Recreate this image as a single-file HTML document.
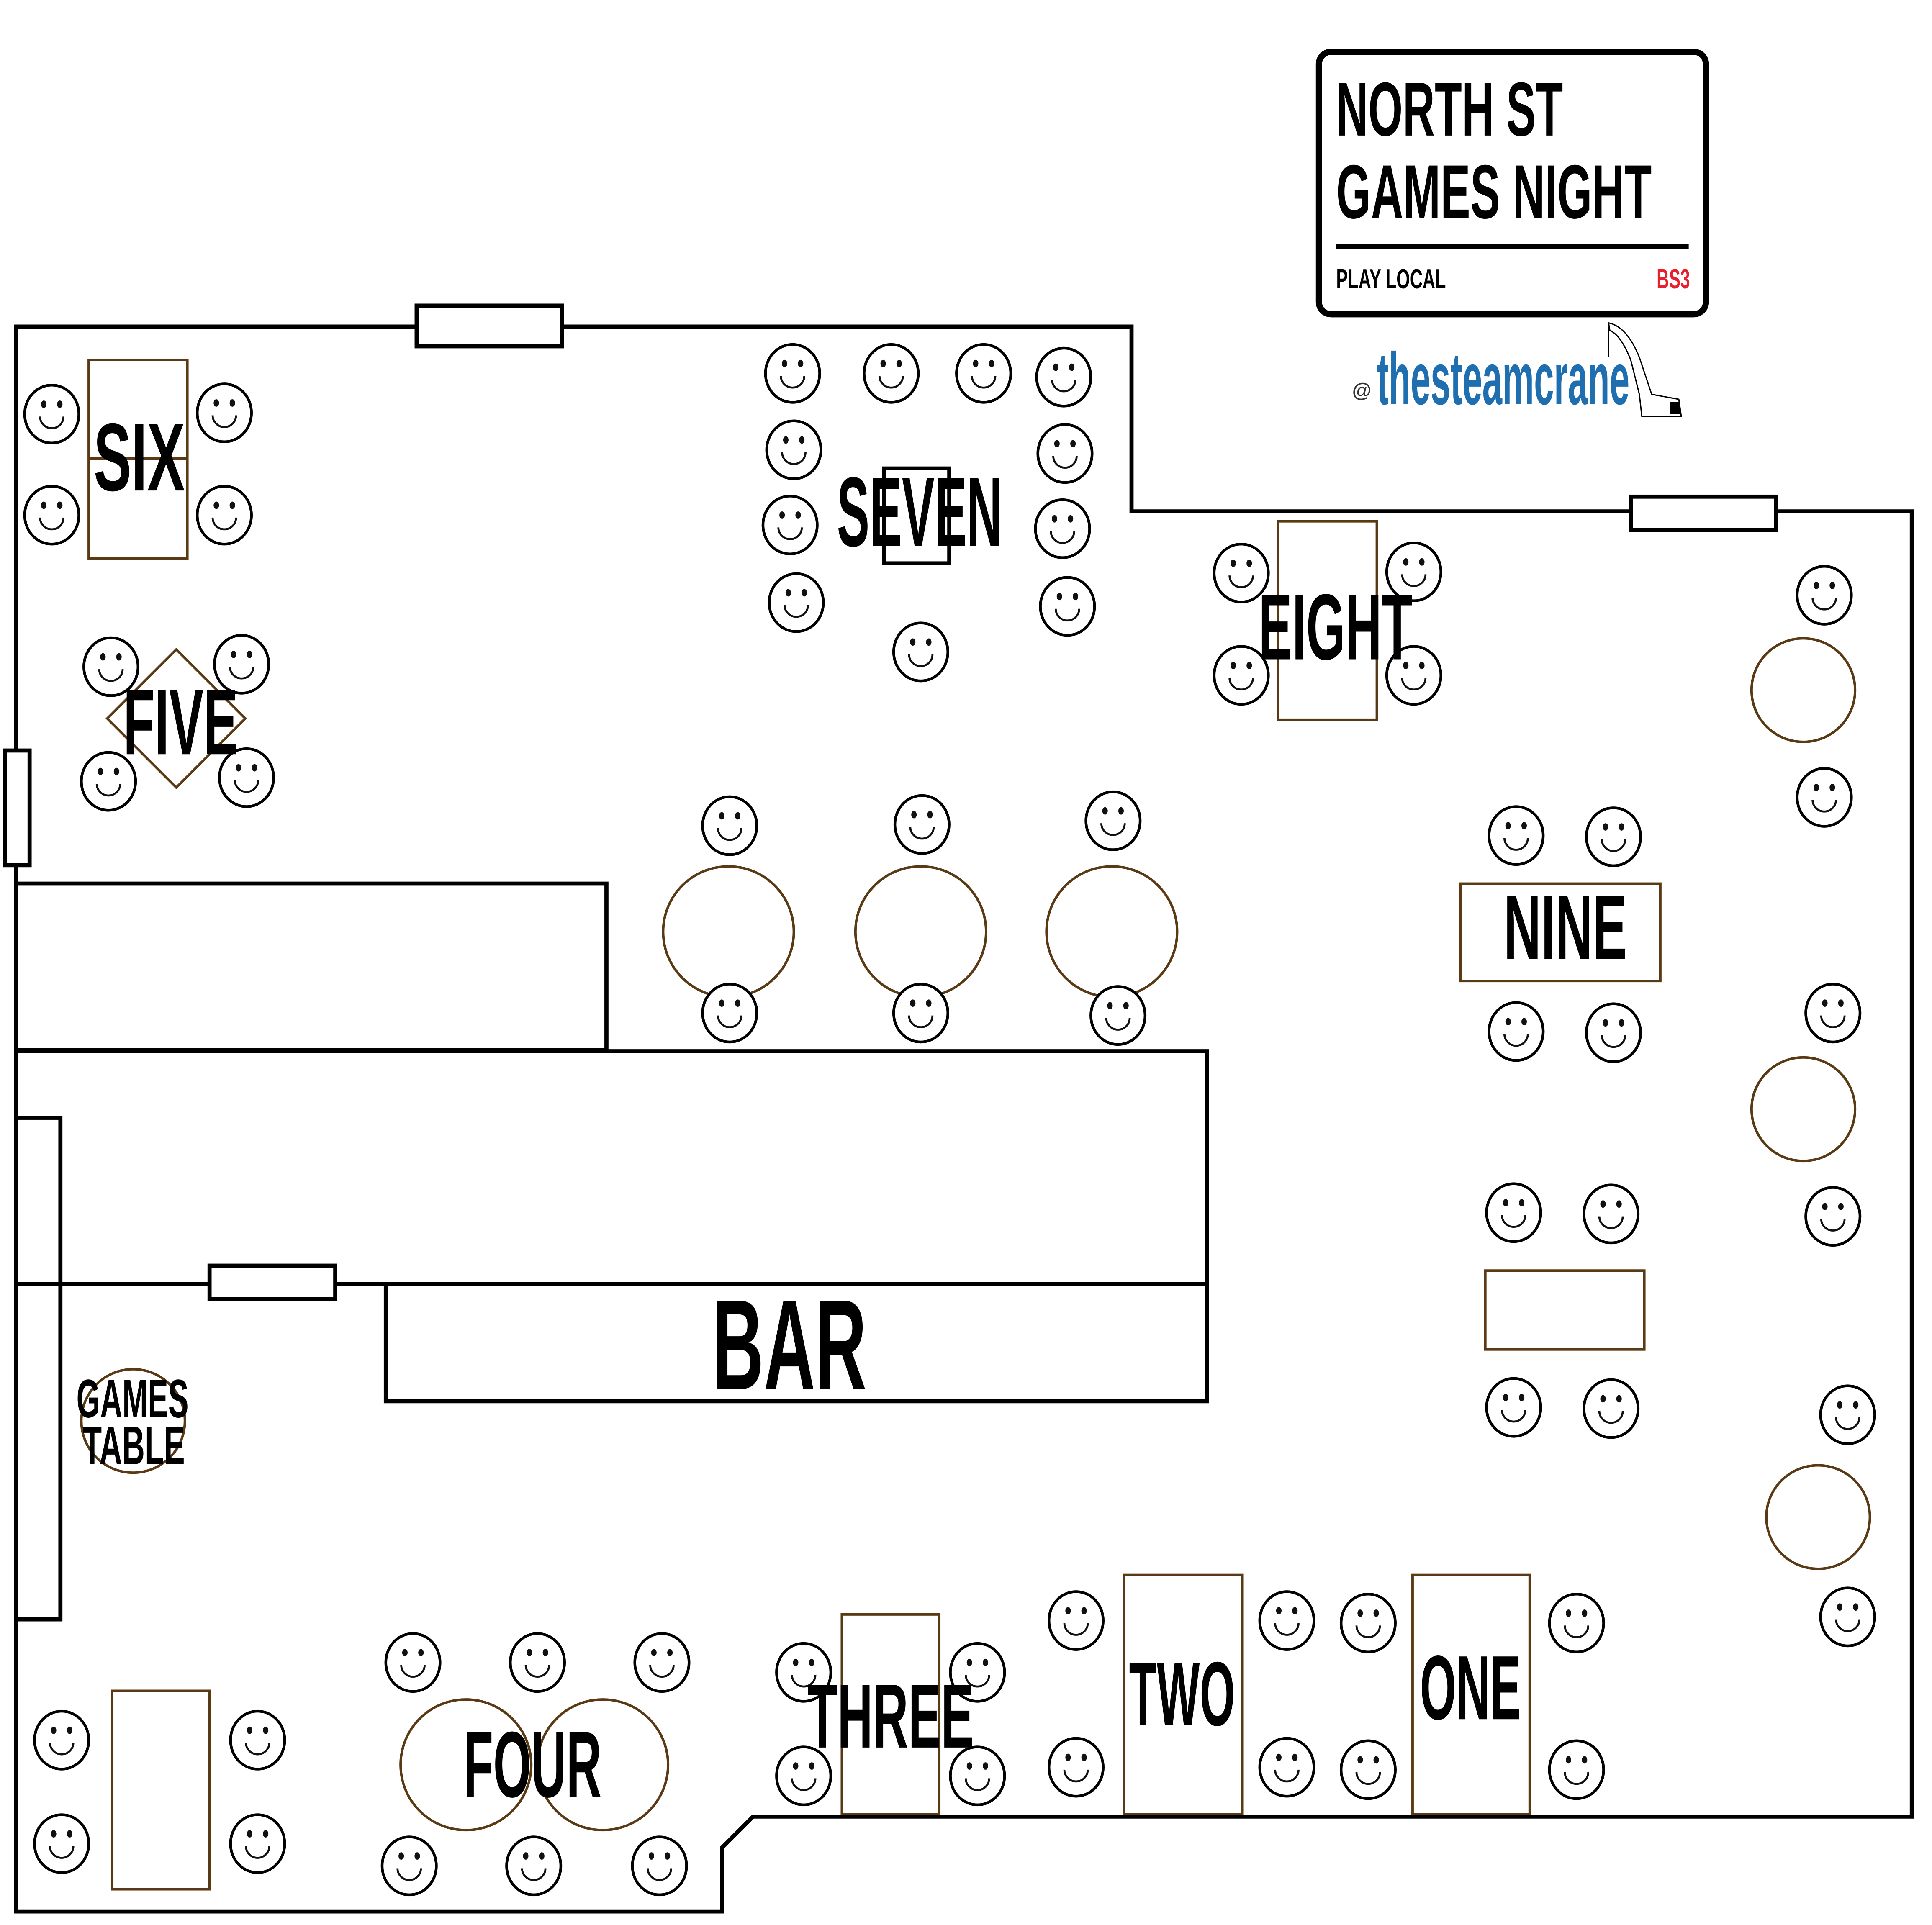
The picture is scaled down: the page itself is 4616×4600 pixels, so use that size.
<!DOCTYPE html>
<html><head><meta charset="utf-8"><style>
html,body{margin:0;padding:0;background:#fff;}
svg{display:block;}
text{font-family:"Liberation Sans Narrow","Liberation Sans",sans-serif;font-weight:bold;}
</style></head><body>
<svg width="4616" height="4600" viewBox="0 0 1567.4 1562" preserveAspectRatio="none" xmlns="http://www.w3.org/2000/svg">
<defs>
<g id="s">
<ellipse cx="0" cy="0" rx="22" ry="23.5" fill="#fff" stroke="#000" stroke-width="2.2"/>
<ellipse cx="-6.5" cy="-8" rx="2.2" ry="3" fill="#111"/>
<ellipse cx="6.5" cy="-8" rx="2.2" ry="3" fill="#111"/>
<path d="M-9.5 2 A9.5 9.5 0 0 0 9.5 2" fill="none" stroke="#111" stroke-width="1.6"/>
</g>
</defs>
<rect width="1568" height="1562" fill="#fff"/>
<g fill="none" stroke="#000" stroke-width="3.3">
<polygon points="13,265 918,265 918,415 1551,415 1551,1474 611,1474 586,1499 586,1551 13,1551"/>
<rect x="338" y="248" width="118" height="33" fill="#fff"/>
<rect x="1323" y="403" width="118" height="27" fill="#fff"/>
<rect x="4" y="609" width="20" height="93" fill="#fff"/>
<rect x="13" y="717" width="479" height="135"/>
<rect x="13" y="853" width="966" height="189"/>
<rect x="313" y="1042" width="666" height="95"/>
<rect x="13" y="907" width="36" height="407"/>
<rect x="170" y="1027" width="102" height="27" fill="#fff"/>
</g>
<g fill="none" stroke="#5a3a14" stroke-width="2">
<rect x="72" y="292" width="80" height="161"/>
<line x1="72" y1="372" x2="152" y2="372" stroke-width="3"/>
<polygon points="143,527 199,583 143,639 87,583"/>
<rect x="1037" y="423" width="80" height="161"/>
<circle cx="591" cy="756" r="53"/><circle cx="747" cy="756" r="53"/><circle cx="902" cy="756" r="53"/>
<rect x="1185" y="717" width="162" height="79"/>
<circle cx="1463" cy="560" r="42"/><circle cx="1463" cy="900" r="42"/><circle cx="1475" cy="1231" r="42"/>
<rect x="1205" y="1031" width="129" height="64"/>
<circle cx="108" cy="1153" r="42"/>
<rect x="91" y="1372" width="79" height="161"/>
<circle cx="378" cy="1432" r="53"/><circle cx="489" cy="1432" r="53"/>
<rect x="683" y="1310" width="79" height="162"/>
<rect x="912" y="1278" width="96" height="194"/>
<rect x="1146" y="1278" width="95" height="194"/>
</g>
<rect x="717" y="380" width="53" height="77" fill="none" stroke="#000" stroke-width="3"/>
<g>
<use href="#s" x="42" y="336"/><use href="#s" x="182" y="335"/><use href="#s" x="42" y="418"/><use href="#s" x="182" y="418"/>
<use href="#s" x="90" y="541"/><use href="#s" x="196" y="539"/><use href="#s" x="88" y="634"/><use href="#s" x="200" y="631"/>
<use href="#s" x="643" y="303"/><use href="#s" x="723" y="303"/><use href="#s" x="798" y="303"/><use href="#s" x="863" y="306"/>
<use href="#s" x="644" y="365"/><use href="#s" x="864" y="368"/><use href="#s" x="641" y="426"/><use href="#s" x="862" y="429"/>
<use href="#s" x="646" y="489"/><use href="#s" x="866" y="492"/><use href="#s" x="747" y="529"/>
<use href="#s" x="1007" y="465"/><use href="#s" x="1147" y="464"/><use href="#s" x="1007" y="548"/><use href="#s" x="1147" y="548"/>
<use href="#s" x="592" y="670"/><use href="#s" x="748" y="669"/><use href="#s" x="903" y="666"/>
<use href="#s" x="592" y="822"/><use href="#s" x="747" y="822"/><use href="#s" x="907" y="824"/>
<use href="#s" x="1230" y="678"/><use href="#s" x="1309" y="679"/><use href="#s" x="1230" y="837"/><use href="#s" x="1309" y="838"/>
<use href="#s" x="1480" y="483"/><use href="#s" x="1480" y="647"/><use href="#s" x="1487" y="822"/><use href="#s" x="1487" y="987"/>
<use href="#s" x="1499" y="1148"/><use href="#s" x="1499" y="1312"/>
<use href="#s" x="1228" y="984"/><use href="#s" x="1307" y="985"/><use href="#s" x="1228" y="1142"/><use href="#s" x="1307" y="1143"/>
<use href="#s" x="50" y="1412"/><use href="#s" x="209" y="1412"/><use href="#s" x="50" y="1496"/><use href="#s" x="209" y="1496"/>
<use href="#s" x="335" y="1349"/><use href="#s" x="436" y="1349"/><use href="#s" x="537" y="1349"/>
<use href="#s" x="332" y="1514"/><use href="#s" x="433" y="1514"/><use href="#s" x="535" y="1514"/>
<use href="#s" x="652" y="1357"/><use href="#s" x="793" y="1357"/><use href="#s" x="652" y="1441"/><use href="#s" x="793" y="1441"/>
<use href="#s" x="873" y="1315"/><use href="#s" x="1044" y="1315"/><use href="#s" x="873" y="1434"/><use href="#s" x="1044" y="1434"/>
<use href="#s" x="1110" y="1317"/><use href="#s" x="1279" y="1317"/><use href="#s" x="1110" y="1436"/><use href="#s" x="1279" y="1436"/>
</g>
<g fill="#000">
<text x="76" y="398" font-size="78" textLength="74" lengthAdjust="spacingAndGlyphs">SIX</text>
<text x="679" y="443" font-size="80" textLength="134" lengthAdjust="spacingAndGlyphs">SEVEN</text>
<text x="1021" y="535" font-size="76" textLength="125" lengthAdjust="spacingAndGlyphs">EIGHT</text>
<text x="100" y="612" font-size="76" textLength="93" lengthAdjust="spacingAndGlyphs">FIVE</text>
<text x="1220" y="778" font-size="74" textLength="100" lengthAdjust="spacingAndGlyphs">NINE</text>
<text x="578" y="1127" font-size="104" textLength="125" lengthAdjust="spacingAndGlyphs">BAR</text>
<text x="62" y="1150" font-size="44" textLength="91" lengthAdjust="spacingAndGlyphs">GAMES</text>
<text x="67" y="1188" font-size="44" textLength="83" lengthAdjust="spacingAndGlyphs">TABLE</text>
<text x="376" y="1458" font-size="76" textLength="112" lengthAdjust="spacingAndGlyphs">FOUR</text>
<text x="655" y="1418" font-size="74" textLength="135" lengthAdjust="spacingAndGlyphs">THREE</text>
<text x="916" y="1400" font-size="74" textLength="86" lengthAdjust="spacingAndGlyphs">TWO</text>
<text x="1152" y="1395" font-size="74" textLength="82" lengthAdjust="spacingAndGlyphs">ONE</text>
</g>
<rect x="1070" y="42" width="314" height="213" rx="10" fill="#fff" stroke="#000" stroke-width="5"/>
<text x="1084" y="110" font-size="62" textLength="184" lengthAdjust="spacingAndGlyphs">NORTH ST</text>
<text x="1084" y="177" font-size="62" textLength="256" lengthAdjust="spacingAndGlyphs">GAMES NIGHT</text>
<line x1="1084" y1="200" x2="1370" y2="200" stroke="#000" stroke-width="4"/>
<text x="1084" y="234" font-size="22" textLength="89" lengthAdjust="spacingAndGlyphs">PLAY LOCAL</text>
<text x="1344" y="234" font-size="22" fill="#e8202e" textLength="27" lengthAdjust="spacingAndGlyphs">BS3</text>
<text x="1097" y="322" font-size="16" font-weight="normal" fill="#333">@</text>
<text x="1117" y="328" font-size="60" fill="#1f6fb0" textLength="205" lengthAdjust="spacingAndGlyphs">thesteamcrane</text>
<path d="M1305 262 Q1320 265 1330 290 L1340 320 L1362 324 L1364 338 L1332 338 L1330 320 L1323 292 Q1315 272 1306 268 Z" fill="#fff" stroke="#000" stroke-width="1"/>
<line x1="1305" y1="265" x2="1305" y2="290" stroke="#000" stroke-width="1"/>
<rect x="1355" y="326" width="8" height="10" fill="#000"/>
</svg>
</body></html>
